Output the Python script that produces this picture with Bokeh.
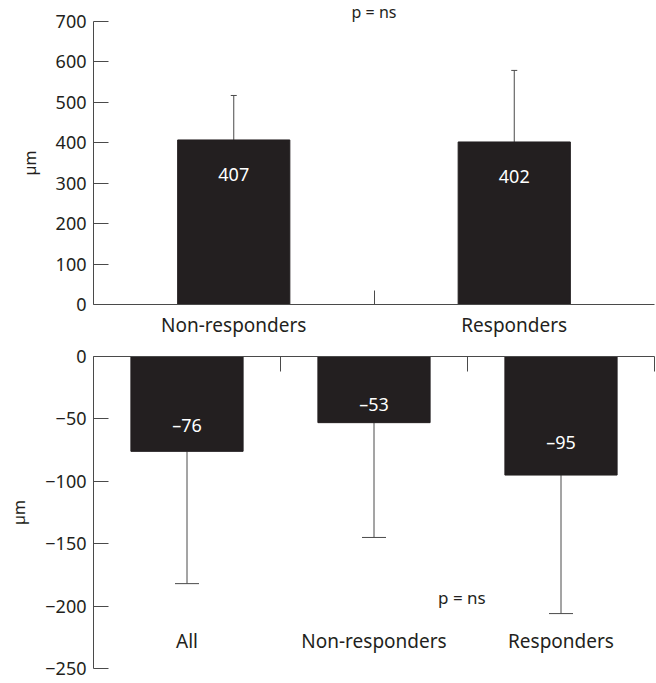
from bokeh.plotting import figure
from bokeh.layouts import column
from bokeh.models import FixedTicker, Whisker, TeeHead, Label, ColumnDataSource
from bokeh.core.properties import value
from bokeh.embed import file_html
from bokeh.resources import INLINE

# --- data -------------------------------------------------------------
top_groups = ["Non-responders", "Responders"]
top_means = [407, 402]
top_sd = [110, 177]

bottom_groups = ["All", "Non-responders", "Responders"]
bottom_means = [-76, -53, -95]
bottom_sd = [106, 92, 111]

top_ticks = [0, 100, 200, 300, 400, 500, 600, 700]
bottom_ticks = [0, -50, -100, -150, -200, -250]

# --- style ------------------------------------------------------------
FONT = "Noto Sans"
INK = "#231f20"
LINE = "#4a4a4a"
TICK_SIZE = "18px"
CAT_SIZE = "19px"
BAR_LABEL_SIZE = "18px"


def style_common(p):
    p.outline_line_color = None
    p.xgrid.grid_line_color = None
    p.ygrid.grid_line_color = None
    p.background_fill_color = "white"
    p.border_fill_color = "white"


def style_yaxis(ax):
    ax.axis_line_color = LINE
    ax.major_tick_line_color = LINE
    ax.major_tick_in = 15
    ax.major_tick_out = 0
    ax.minor_tick_line_color = None
    ax.major_label_text_font = FONT
    ax.major_label_text_font_size = TICK_SIZE
    ax.major_label_text_color = INK
    ax.major_label_standoff = 7
    ax.axis_label = "µm"
    ax.axis_label_text_font = FONT
    ax.axis_label_text_font_size = "16px"
    ax.axis_label_text_font_style = "normal"
    ax.axis_label_text_color = INK
    ax.axis_label_standoff = 12


# --- upper panel: absolute values -------------------------------------
top_x = [1, 2]
src_top = ColumnDataSource(dict(
    x=top_x,
    top=top_means,
    upper=[m + s for m, s in zip(top_means, top_sd)],
    label=[str(m) for m in top_means],
    label_y=[m * 0.79 for m in top_means],
))

p1 = figure(width=656, height=340, x_range=(0.5, 2.5), y_range=(0, 700),
            output_backend="svg", toolbar_location=None,
            min_border_left=93, min_border_right=0,
            min_border_top=0, min_border_bottom=35)
style_common(p1)

# significance note centred over the panel
p1.title.text = "p = ns"
p1.title.align = "center"
p1.title.text_font = FONT
p1.title.text_font_size = "16px"
p1.title.text_font_style = "normal"
p1.title.text_color = INK
p1.title.standoff = -3
p1.title.offset = 8

p1.vbar(x="x", top="top", bottom=0, width=0.4, source=src_top,
        fill_color=INK, line_color=INK)
p1.add_layout(Whisker(source=src_top, base="x", lower="top", upper="upper",
                      line_color=LINE, line_width=1, lower_head=None,
                      upper_head=TeeHead(size=6, line_color=LINE, line_width=1)))
p1.text(x="x", y="label_y", text="label", source=src_top,
        text_color="white", text_font=value(FONT), text_font_size=BAR_LABEL_SIZE,
        text_align="center", text_baseline="middle")

xa = p1.xaxis[0]
xa.ticker = FixedTicker(ticks=top_x, minor_ticks=[1.5])
xa.major_label_overrides = {x: g for x, g in zip(top_x, top_groups)}
xa.axis_line_color = LINE
xa.major_tick_in = 0
xa.major_tick_out = 0
xa.minor_tick_in = 14
xa.minor_tick_out = 0
xa.minor_tick_line_color = LINE
xa.major_label_text_font = FONT
xa.major_label_text_font_size = CAT_SIZE
xa.major_label_text_color = INK
xa.major_label_standoff = 7

ya = p1.yaxis[0]
ya.ticker = FixedTicker(ticks=top_ticks)
style_yaxis(ya)

# --- lower panel: changes ---------------------------------------------
bot_x = [1, 2, 3]
src_bot = ColumnDataSource(dict(
    x=bot_x,
    top=bottom_means,
    lower=[m - s for m, s in zip(bottom_means, bottom_sd)],
    label=["–" + str(abs(m)) for m in bottom_means],
    label_y=[m * 0.72 for m in bottom_means],
))

p2 = figure(width=656, height=343, x_range=(0.5, 3.5), y_range=(-250, 0),
            output_backend="svg", toolbar_location=None,
            x_axis_location="above",
            min_border_left=93, min_border_right=2,
            min_border_top=16, min_border_bottom=15)
style_common(p2)

p2.vbar(x="x", top=0, bottom="top", width=0.6, source=src_bot,
        fill_color=INK, line_color=INK)
p2.add_layout(Whisker(source=src_bot, base="x", lower="lower", upper="top",
                      line_color=LINE, line_width=1, upper_head=None,
                      lower_head=TeeHead(size=24, line_color=LINE, line_width=1)))
p2.text(x="x", y="label_y", text="label", source=src_bot,
        text_color="white", text_font=value(FONT), text_font_size=BAR_LABEL_SIZE,
        text_align="center", text_baseline="middle")
p2.text(x=bot_x, y=[-228] * 3, text=bottom_groups,
        text_color=INK, text_font=value(FONT), text_font_size=CAT_SIZE,
        text_align="center", text_baseline="middle")
p2.add_layout(Label(x=2.47, y=-193, text="p = ns", text_font=FONT,
                    text_font_size="17px", text_color=INK,
                    text_align="center", text_baseline="middle"))

# top axis: only the short separators between groups, no labels
xb = p2.xaxis[0]
xb.ticker = FixedTicker(ticks=[], minor_ticks=[1.5, 2.5, 3.5])
xb.axis_line_color = LINE
xb.major_tick_line_color = None
xb.minor_tick_line_color = LINE
xb.minor_tick_in = 15
xb.minor_tick_out = 0
xb.major_label_standoff = 0

yb = p2.yaxis[0]
yb.ticker = FixedTicker(ticks=bottom_ticks)
yb.major_label_overrides = {t: (str(t).replace("-", "−")) for t in bottom_ticks}
style_yaxis(yb)

layout = column(p1, p2, spacing=0)
open("out.html", "w").write(file_html(layout, INLINE))
